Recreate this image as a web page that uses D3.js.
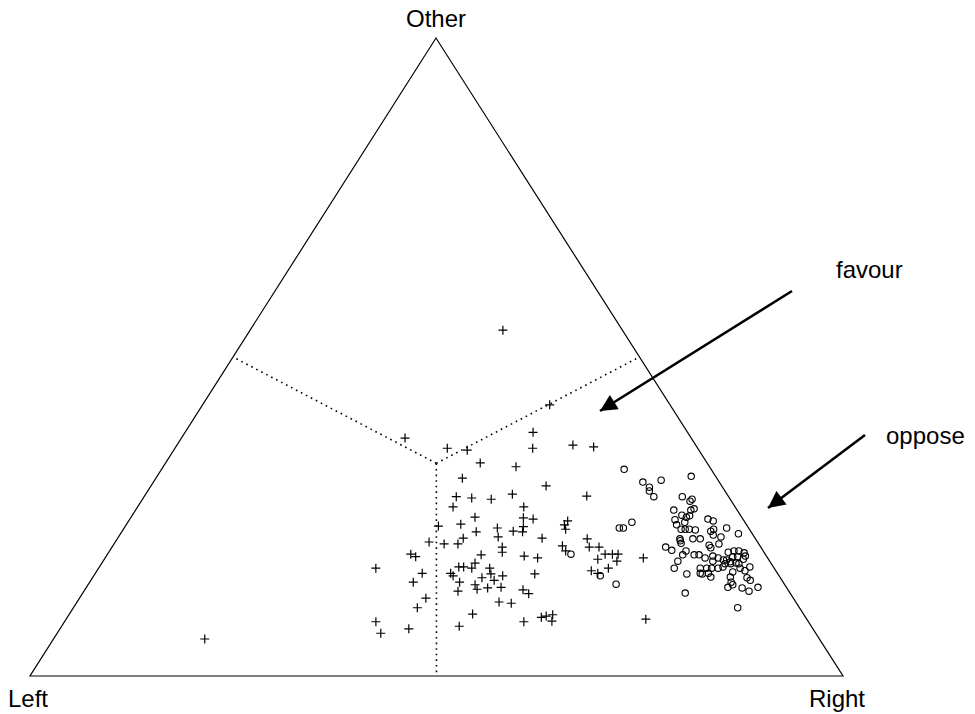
<!DOCTYPE html>
<html>
<head>
<meta charset="utf-8">
<script src="https://cdn.jsdelivr.net/npm/d3@7"></script>
<style>
  html, body { margin: 0; padding: 0; background: #fff; }
  svg { display: block; }
  text { font-family: "Liberation Sans", Arial, sans-serif; fill: #000; }
</style>
</head>
<body>
<svg id="chart" width="975" height="714"></svg>
<script>
// Axis / vertex labels
const vertexLabels = ["Left", "Right", "Other"];
const arrowLabels = ["favour", "oppose"];

// "favour" group (plus markers): percentage Right and Other (Left = 100 - Right - Other)
const favourRight = [31.1,42.7,27.5,18.6,33.5,36.1,38.7,43.4,42.8,44.0,48.7,51.4,37.7,48.6,54.4,38.4,40.4,42.9,45.1,47.5,
  38.8,38.5,41.1,38.6,40.6,42.5,42.3,37.3,38.1,34.1,40.2,39.8,44.2,44.8,43.7,44.2,45.5,46.0,42.6,42.3,
  38.3,39.8,42.9,48.9,42.3,48.3,49.6,43.6,45.9,46.7,48.1,49.0,49.3,52.2,53.9,54.0,54.4,48.0,48.4,46.0,
  51.4,53.2,55.3,56.1,45.9,45.9,48.1,48.7,47.9,49.6,50.3,54.1,47.6,48.2,49.4,51.0,53.9,54.9,51.9,53.5,
  49.6,56.5,58.3,58.8,59.5,59.9,57.8,58.7,59.9,61.2,62.1,62.8,63.2,60.7,62.7,60.8,61.8,66.2,71.3];
const favourOther = [54.2,42.5,37.3,5.8,35.7,35.4,33.4,32.8,38.2,35.7,36.2,35.9,31.0,29.8,28.2,28.1,27.9,27.7,28.5,26.5,
  26.5,23.5,23.8,21.0,20.7,21.6,20.7,19.1,18.7,16.9,16.1,14.7,17.1,17.1,16.1,15.7,14.7,13.3,12.2,10.7,
  8.5,6.7,7.4,7.8,24.9,24.8,24.6,22.6,23.2,21.8,22.7,23.4,22.6,21.6,23.7,24.3,23.0,20.2,19.4,19.0,
  18.8,18.5,20.4,19.6,17.7,16.9,16.9,16.0,15.4,15.0,15.7,16.0,14.3,13.6,13.8,13.9,13.5,12.9,11.6,11.4,
  9.7,8.5,9.2,9.4,9.6,8.6,21.5,20.2,20.2,19.1,19.1,19.1,18.0,18.3,16.9,16.5,16.1,18.5,8.9];

// "oppose" group (circle markers)
const opposeRight = [56.9,60.2,62.3,61.4,61.7,62.7,65.7,66.2,67.6,67.5,66.2,68.3,68.6,67.6,68.3,68.6,67.1,68.5,67.7,68.6,
  69.1,69.6,70.4,71.1,71.9,74.1,76.0,72.4,72.6,73.0,74.1,69.2,69.4,70.8,71.7,69.7,73.3,73.7,74.4,68.1,
  69.1,70.9,70.8,72.2,72.8,73.8,74.6,75.0,75.4,76.6,76.2,76.8,77.4,78.2,77.1,77.7,78.6,76.2,77.2,70.7,
  76.7,77.4,78.0,78.4,78.6,70.8,74.0,74.8,75.4,76.2,76.7,78.9,80.0,74.4,74.7,75.4,76.0,72.8,78.3,79.7,
  80.5,81.1,78.4,78.9,78.9,79.3,80.7,81.8,82.6,74.1,81.7,60.9,61.4,62.0,57.0,62.3,64.9];
const opposeOther = [32.4,30.4,30.7,29.6,29.0,28.1,31.3,28.1,27.7,27.4,26.0,26.0,26.2,25.2,24.9,25.1,24.5,24.1,23.7,23.0,
  23.0,23.0,22.9,24.6,24.3,23.2,22.3,22.7,23.0,22.1,21.8,21.5,21.2,21.5,21.5,20.8,20.5,20.1,20.7,20.2,
  19.7,19.6,19.0,19.0,19.0,18.5,18.8,18.0,18.5,18.2,19.4,19.6,19.6,19.3,18.7,18.7,18.8,18.2,17.9,18.0,
  17.6,17.6,17.7,17.6,18.3,16.9,16.9,16.9,16.9,16.9,17.1,16.9,17.1,16.1,16.0,16.1,15.5,16.0,16.3,16.5,
  15.4,15.0,15.5,14.7,13.9,14.3,13.8,13.3,13.9,13.0,10.7,23.2,23.2,24.1,19.1,15.7,14.4];

const svg = d3.select("#chart");

// Ternary geometry built from D3 scales
const A = [30, 676], B = [843, 676], C = [436, 38];   // Left, Right, Other vertices
const otherY = d3.scaleLinear().domain([0, 100]).range([A[1], C[1]]);
const rightX = d3.scaleLinear().domain([0, 100]).range([0, B[0] - A[0]]);
const otherX = d3.scaleLinear().domain([0, 100]).range([0, C[0] - A[0]]);
function proj(r, o) { return [A[0] + rightX(r) + otherX(o), otherY(o)]; }

// Triangle
svg.append("path")
  .attr("d", d3.line()([proj(0,0), proj(100,0), proj(0,100)]) + "Z")
  .attr("fill", "none").attr("stroke", "#000").attr("stroke-width", 1.2);

// Dotted dividing lines from centroid to edge midpoints
const third = 100 / 3;
const centroid = proj(third, third);
[[50, 0], [0, 50], [50, 50]].forEach(m => {
  svg.append("line")
    .attr("x1", centroid[0]).attr("y1", centroid[1])
    .attr("x2", proj(m[0], m[1])[0]).attr("y2", proj(m[0], m[1])[1])
    .attr("stroke", "#000").attr("stroke-width", 1.6)
    .attr("stroke-dasharray", "1.6,4");
});

// Plus markers
const fav = favourRight.map((r, i) => proj(r, favourOther[i]));
svg.append("g").selectAll("path").data(fav).join("path")
  .attr("d", d => `M${d[0]-4.5},${d[1]}H${d[0]+4.5}M${d[0]},${d[1]-4.5}V${d[1]+4.5}`)
  .attr("stroke", "#000").attr("stroke-width", 1.2).attr("fill", "none");

// Circle markers
const opp = opposeRight.map((r, i) => proj(r, opposeOther[i]));
svg.append("g").selectAll("circle").data(opp).join("circle")
  .attr("cx", d => d[0]).attr("cy", d => d[1]).attr("r", 3.2)
  .attr("fill", "none").attr("stroke", "#000").attr("stroke-width", 1.1);

// Vertex labels
svg.append("text").attr("x", 436).attr("y", 27).attr("text-anchor", "middle")
  .attr("font-size", 24).text(vertexLabels[2]);
svg.append("text").attr("x", 8).attr("y", 707).attr("font-size", 24).text(vertexLabels[0]);
svg.append("text").attr("x", 809).attr("y", 707).attr("font-size", 24).text(vertexLabels[1]);

// Arrows
const defs = svg.append("defs");
defs.append("marker").attr("id", "ah").attr("viewBox", "0 0 10 10")
  .attr("refX", 10).attr("refY", 5).attr("markerWidth", 8.5).attr("markerHeight", 6.5)
  .attr("markerUnits", "strokeWidth").attr("orient", "auto")
  .append("path").attr("d", "M0,0L10,5L0,10Z").attr("fill", "#000");

const arrows = [
  { from: [792, 291], to: [600, 411], label: arrowLabels[0], lx: 836, ly: 278 },
  { from: [865, 435], to: [768, 508], label: arrowLabels[1], lx: 886, ly: 444 }
];
arrows.forEach(a => {
  svg.append("line")
    .attr("x1", a.from[0]).attr("y1", a.from[1])
    .attr("x2", a.to[0]).attr("y2", a.to[1])
    .attr("stroke", "#000").attr("stroke-width", 2.6)
    .attr("marker-end", "url(#ah)");
  svg.append("text").attr("x", a.lx).attr("y", a.ly).attr("font-size", 24).text(a.label);
});
</script>
</body>
</html>
